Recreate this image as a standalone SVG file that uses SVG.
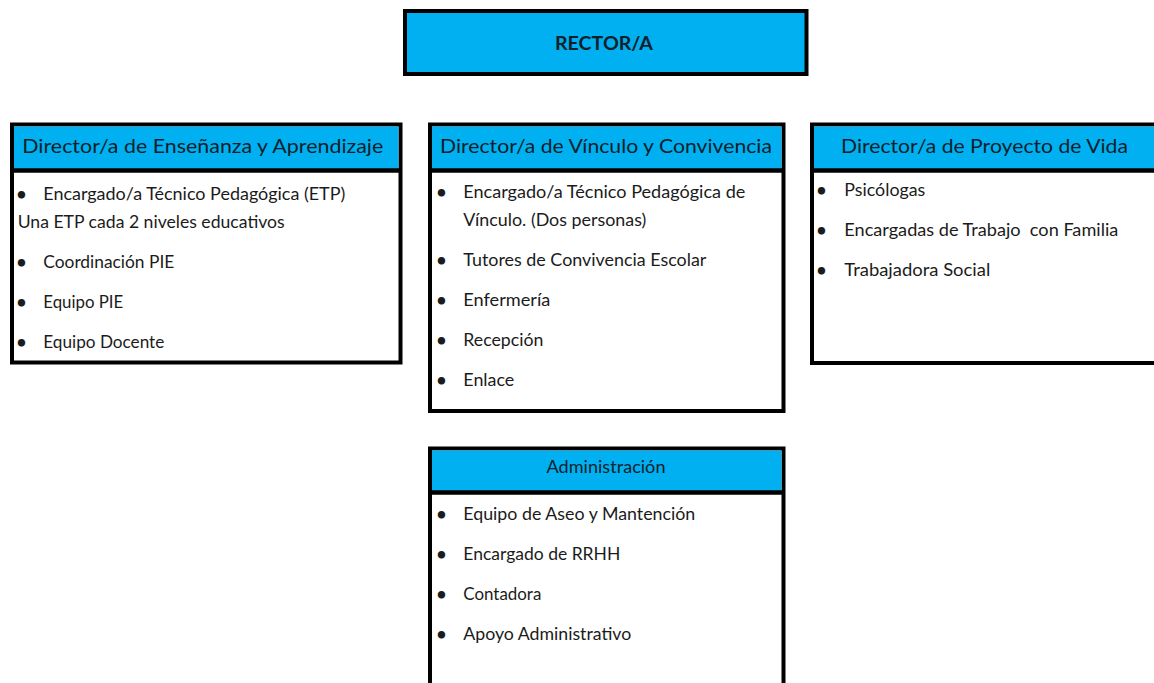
<svg xmlns="http://www.w3.org/2000/svg" width="1154" height="683" viewBox="0 0 1154 683">
<style>
.box{fill:#ffffff;stroke:#000000;stroke-width:4}
.hdr{fill:#00B0F0}
.div{stroke:#000000;stroke-width:4.5}
text{font-family:Lato,"Liberation Sans",sans-serif;fill:#1b1b1b}
.h{font-size:19px;fill:#0f1f2c}
.b{font-size:17px}
.bul{font-size:17px;font-weight:bold}
.r{font-size:18.5px;font-weight:bold;fill:#0f1f2c}
</style>
<rect width="1154" height="683" fill="#ffffff"/>
<g id="connectors"/>
<g id="rector">
<rect x="405" y="11" width="401.5" height="63" fill="#00B0F0" stroke="#000" stroke-width="4"/>
<text class="r" x="604" y="50" text-anchor="middle" textLength="98" lengthAdjust="spacingAndGlyphs">RECTOR/A</text>
</g>
<g id="ensenanza">
<rect class="box" x="12" y="124.5" width="388.5" height="238"/>
<rect class="hdr" x="14" y="126.5" width="384.5" height="44"/>
<line class="div" x1="12" y1="170.5" x2="400.5" y2="170.5"/>
<text class="h" x="22.3" y="153" textLength="361" lengthAdjust="spacingAndGlyphs">Director/a de Enseñanza y Aprendizaje</text>
<text class="bul" x="16.5" y="200">•</text>
<text class="b" x="43.3" y="200" textLength="302" lengthAdjust="spacingAndGlyphs">Encargado/a Técnico Pedagógica (ETP)</text>
<text class="b" x="17.7" y="228" textLength="267" lengthAdjust="spacingAndGlyphs">Una ETP cada 2 niveles educativos</text>
<text class="bul" x="16.5" y="268">•</text>
<text class="b" x="43.3" y="268" textLength="131" lengthAdjust="spacingAndGlyphs">Coordinación PIE</text>
<text class="bul" x="16.5" y="308">•</text>
<text class="b" x="43.3" y="308" textLength="80" lengthAdjust="spacingAndGlyphs">Equipo PIE</text>
<text class="bul" x="16.5" y="348">•</text>
<text class="b" x="43.3" y="348" textLength="121" lengthAdjust="spacingAndGlyphs">Equipo Docente</text>
</g>
<g id="vinculo">
<rect class="box" x="430" y="124.5" width="353.5" height="286.5"/>
<rect class="hdr" x="432" y="126.5" width="349.5" height="44"/>
<line class="div" x1="430" y1="170.5" x2="783.5" y2="170.5"/>
<text class="h" x="440" y="153" textLength="332" lengthAdjust="spacingAndGlyphs">Director/a de Vínculo y Convivencia</text>
<text class="bul" x="436.5" y="198">•</text>
<text class="b" x="463.3" y="198" textLength="282" lengthAdjust="spacingAndGlyphs">Encargado/a Técnico Pedagógica de</text>
<text class="b" x="463.3" y="226" textLength="183" lengthAdjust="spacingAndGlyphs">Vínculo. (Dos personas)</text>
<text class="bul" x="436.5" y="266">•</text>
<text class="b" x="463.3" y="266" textLength="243" lengthAdjust="spacingAndGlyphs">Tutores de Convivencia Escolar</text>
<text class="bul" x="436.5" y="306">•</text>
<text class="b" x="463.3" y="306" textLength="87" lengthAdjust="spacingAndGlyphs">Enfermería</text>
<text class="bul" x="436.5" y="346">•</text>
<text class="b" x="463.3" y="346" textLength="80" lengthAdjust="spacingAndGlyphs">Recepción</text>
<text class="bul" x="436.5" y="386">•</text>
<text class="b" x="463.3" y="386" textLength="51" lengthAdjust="spacingAndGlyphs">Enlace</text>
</g>
<g id="proyecto">
<rect class="box" x="812" y="124.5" width="360" height="238.5"/>
<rect class="hdr" x="814" y="126.5" width="356" height="44"/>
<line class="div" x1="812" y1="170.5" x2="1172" y2="170.5"/>
<text class="h" x="841" y="153" textLength="287" lengthAdjust="spacingAndGlyphs">Director/a de Proyecto de Vida</text>
<text class="bul" x="816.5" y="196">•</text>
<text class="b" x="844.3" y="196" textLength="81" lengthAdjust="spacingAndGlyphs">Psicólogas</text>
<text class="bul" x="816.5" y="236">•</text>
<text class="b" x="844.3" y="236" textLength="274" lengthAdjust="spacingAndGlyphs" xml:space="preserve">Encargadas de Trabajo  con Familia</text>
<text class="bul" x="816.5" y="276">•</text>
<text class="b" x="844.3" y="276" textLength="146" lengthAdjust="spacingAndGlyphs">Trabajadora Social</text>
</g>
<g id="administracion">
<rect class="box" x="430" y="448.5" width="353.5" height="260"/>
<rect class="hdr" x="432" y="450.5" width="349.5" height="42"/>
<line class="div" x1="430" y1="492.5" x2="783.5" y2="492.5"/>
<text class="b" x="606" y="473" text-anchor="middle" textLength="119" lengthAdjust="spacingAndGlyphs" style="fill:#0f1f2c">Administración</text>
<text class="bul" x="436.5" y="520">•</text>
<text class="b" x="463.3" y="520" textLength="232" lengthAdjust="spacingAndGlyphs">Equipo de Aseo y Mantención</text>
<text class="bul" x="436.5" y="560">•</text>
<text class="b" x="463.3" y="560" textLength="157" lengthAdjust="spacingAndGlyphs">Encargado de RRHH</text>
<text class="bul" x="436.5" y="600">•</text>
<text class="b" x="463.3" y="600" textLength="78" lengthAdjust="spacingAndGlyphs">Contadora</text>
<text class="bul" x="436.5" y="640">•</text>
<text class="b" x="463.3" y="640" textLength="168" lengthAdjust="spacingAndGlyphs">Apoyo Administrativo</text>
</g>
</svg>
